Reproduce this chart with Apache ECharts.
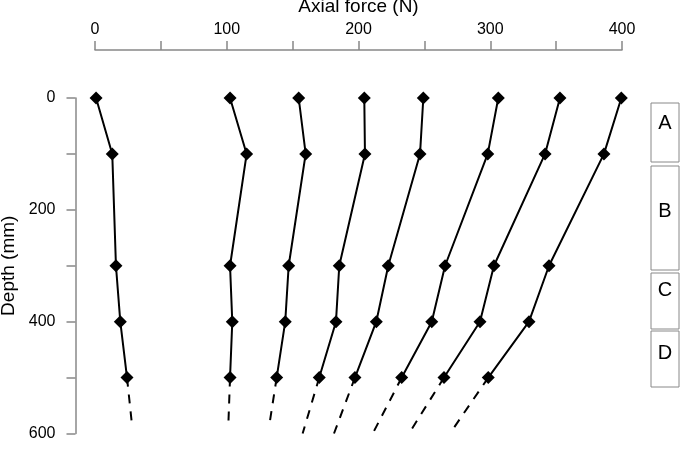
<!DOCTYPE html>
<html>
<head>
<meta charset="utf-8">
<script src="https://cdn.jsdelivr.net/npm/echarts@6.0.0/dist/echarts.min.js"></script>
<style>
  html, body { margin: 0; padding: 0; background: #fff; }
  #root { width: 684px; height: 460px; }
</style>
</head>
<body>
<div id="root"></div>
<script>
  // measured depths (mm) and axial force (N) for each curve
  const depths = [0, 100, 300, 400, 500];
  const force1 = [0.8, 13.1, 15.9, 19.2, 24.3];
  const force2 = [102.5, 115.1, 102.5, 104.2, 102.5];
  const force3 = [154.6, 159.9, 147.0, 144.4, 137.9];
  const force4 = [204.4, 204.9, 185.4, 182.9, 170.2];
  const force5 = [249.2, 246.7, 222.6, 213.5, 197.3];
  const force6 = [306.1, 298.1, 265.7, 255.6, 232.8];
  const force7 = [352.9, 341.6, 302.8, 292.2, 264.9];
  const force8 = [399.5, 386.3, 344.6, 329.4, 298.5];

  // dashed extrapolation below the last measured point
  const endDepths = [585, 585, 585, 600, 600, 600, 600, 600];
  const endForces = [28.1, 101.2, 132.3, 157.6, 181.4, 210.8, 238.3, 269.4];

  const xTicks = [0, 100, 200, 300, 400];
  const yTicks = [0, 200, 400, 600];
  const zones = ['A', 'B', 'C', 'D'];

  const allForces = [force1, force2, force3, force4, force5, force6, force7, force8];
  const font = 'Liberation Sans, Arial, sans-serif';

  const series = [];
  allForces.forEach((f, i) => {
    series.push({
      type: 'line',
      data: f.map((v, j) => [v, depths[j]]),
      symbol: 'diamond',
      symbolSize: 13,
      lineStyle: { color: '#000', width: 2 },
      itemStyle: { color: '#000' },
      z: 3
    });
    series.push({
      type: 'line',
      data: [[f[f.length - 1], depths[depths.length - 1]], [endForces[i], endDepths[i]]],
      symbol: 'none',
      lineStyle: { color: '#000', width: 2, type: [9, 8] },
      z: 2
    });
  });

  // zone boxes on the right (annotation only)
  const boxes = [[103, 59], [166, 104], [273, 56], [331, 56]];
  const labelY = [123, 211, 290, 353];
  const graphic = [];
  boxes.forEach((b, i) => {
    graphic.push({
      type: 'rect',
      shape: { x: 651, y: b[0], width: 28, height: b[1] },
      style: { fill: 'none', stroke: '#888', lineWidth: 1 }
    });
    graphic.push({
      type: 'text',
      x: 665, y: labelY[i],
      style: { text: zones[i], font: '20px ' + font, fill: '#000', align: 'center', verticalAlign: 'middle' }
    });
  });

  const chart = echarts.init(document.getElementById('root'));
  chart.setOption({
    animation: false,
    grid: { left: 95, right: 62, top: 98, bottom: 26.5, outerBoundsMode: 'none' },
    xAxis: {
      type: 'value',
      position: 'top',
      min: 0, max: 400, interval: 50,
      offset: 48,
      name: 'Axial force (N)',
      nameLocation: 'middle',
      nameGap: 34,
      nameTextStyle: { fontSize: 19, color: '#000', fontFamily: font },
      axisLine: { onZero: false, lineStyle: { color: '#888', width: 1.5 } },
      axisTick: { length: 9, lineStyle: { color: '#888', width: 1.5 } },
      axisLabel: {
        margin: 12, fontSize: 16, color: '#000', fontFamily: font,
        formatter: v => xTicks.includes(v) ? String(v) : ''
      },
      splitLine: { show: false }
    },
    yAxis: {
      type: 'value',
      inverse: true,
      min: 0, max: 600, interval: 100,
      offset: 19.5,
      name: 'Depth (mm)',
      nameLocation: 'middle',
      nameGap: 48,
      nameTextStyle: { fontSize: 19, color: '#000', fontFamily: font },
      axisLine: { show: true, onZero: false, lineStyle: { color: '#888', width: 1.5 } },
      axisTick: { show: true, length: 9, lineStyle: { color: '#888', width: 1.5 } },
      axisLabel: {
        margin: 20, fontSize: 16, color: '#000', fontFamily: font,
        formatter: v => yTicks.includes(v) ? String(v) : ''
      },
      splitLine: { show: false }
    },
    graphic: graphic,
    series: series
  });
</script>
</body>
</html>
